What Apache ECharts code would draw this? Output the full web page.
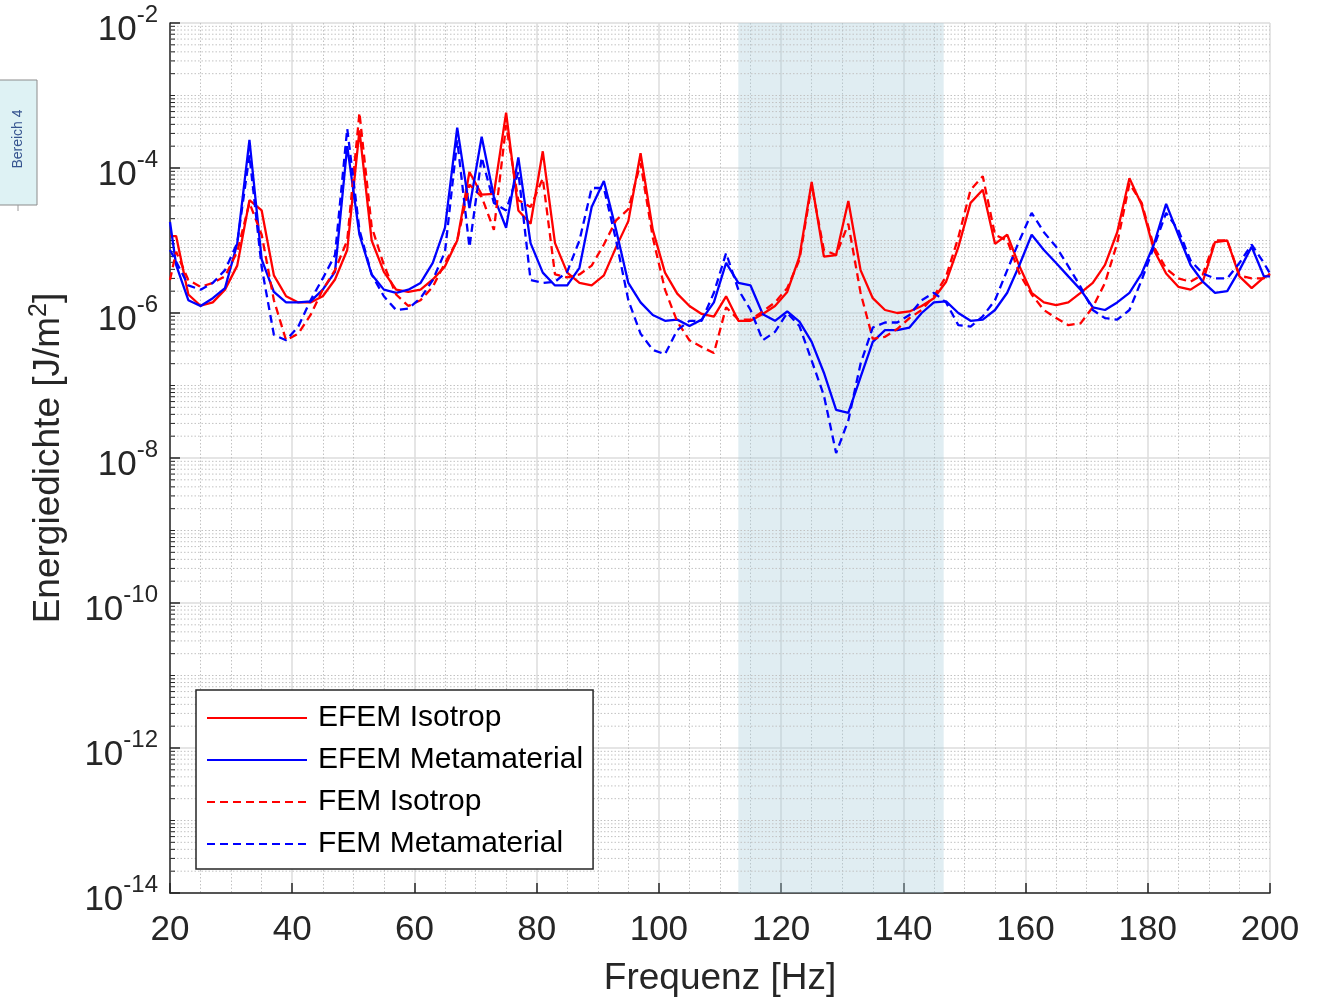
<!DOCTYPE html>
<html>
<head>
<meta charset="utf-8">
<script src="https://cdn.jsdelivr.net/npm/echarts@6/dist/echarts.min.js"></script>
<style>
html, body { margin: 0; padding: 0; background: #fff; }
#chart { width: 1324px; height: 1000px; }
</style>
</head>
<body>
<div id="chart"></div>
<script>
// Frequenzstützstellen [Hz]
const freq = [20, 21, 23, 25, 27, 29, 31, 33, 35, 37,
    39, 41, 43, 45, 47, 49, 51, 53, 55, 57,
    59, 61, 63, 65, 67, 69, 71, 73, 75, 77,
    79, 81, 83, 85, 87, 89, 91, 93, 95, 97,
    99, 101, 103, 105, 107, 109, 111, 113, 115, 117,
    119, 121, 123, 125, 127, 129, 131, 133, 135, 137,
    139, 141, 143, 145, 147, 149, 151, 153, 155, 157,
    159, 161, 163, 165, 167, 169, 171, 173, 175, 177,
    179, 181, 183, 185, 187, 189, 191, 193, 195, 197,
    199, 200];

// Energiedichte [J/m^2]
const efemIsotrop = [1.15e-5, 1.15e-5, 1.8e-6, 1.26e-6, 1.4e-6, 2.1e-6, 4.5e-6, 3.6e-5, 2.6e-5, 3.3e-6,
    1.7e-6, 1.4e-6, 1.4e-6, 1.7e-6, 2.9e-6, 7.4e-6, 3.3e-4, 1.0e-5, 3.7e-6, 2.1e-6,
    1.95e-6, 2.1e-6, 2.9e-6, 4.4e-6, 1.0e-5, 8.8e-5, 4.3e-5, 4.4e-5, 5.8e-4, 2.6e-5,
    1.7e-5, 1.7e-4, 9.2e-6, 3.6e-6, 2.6e-6, 2.4e-6, 3.3e-6, 8.1e-6, 1.85e-5, 1.6e-4,
    1.4e-5, 3.6e-6, 1.85e-6, 1.25e-6, 9.7e-7, 8.9e-7, 1.7e-6, 7.8e-7, 7.8e-7, 9.7e-7,
    1.25e-6, 1.95e-6, 6.0e-6, 6.4e-5, 6.0e-6, 6.3e-6, 3.5e-5, 3.9e-6, 1.6e-6, 1.1e-6,
    1.0e-6, 1.05e-6, 1.25e-6, 1.6e-6, 2.7e-6, 8.1e-6, 3.3e-5, 5.0e-5, 9.0e-6, 1.2e-5,
    4.4e-6, 1.9e-6, 1.4e-6, 1.28e-6, 1.4e-6, 1.9e-6, 2.6e-6, 4.6e-6, 1.3e-5, 7.2e-5,
    3.1e-5, 7.4e-6, 3.5e-6, 2.3e-6, 2.1e-6, 2.7e-6, 9.5e-6, 1.0e-5, 3.2e-6, 2.2e-6,
    3.1e-6, 3.4e-6];

const efemMeta = [1.8e-5, 4.6e-6, 1.5e-6, 1.25e-6, 1.6e-6, 2.2e-6, 9.0e-6, 2.45e-4, 5.5e-6, 1.95e-6,
    1.4e-6, 1.4e-6, 1.45e-6, 2.1e-6, 3.7e-6, 2.0e-4, 1.2e-5, 3.4e-6, 2.1e-6, 1.9e-6,
    2.1e-6, 2.6e-6, 4.9e-6, 1.5e-5, 3.6e-4, 2.8e-5, 2.7e-4, 4.0e-5, 1.5e-5, 1.4e-4,
    9.2e-6, 3.6e-6, 2.4e-6, 2.4e-6, 4.2e-6, 2.9e-5, 6.6e-5, 1.4e-5, 2.6e-6, 1.4e-6,
    9.4e-7, 7.8e-7, 8.1e-7, 6.6e-7, 8.1e-7, 1.4e-6, 4.9e-6, 2.6e-6, 2.4e-6, 9.6e-7,
    7.8e-7, 1.05e-6, 7.6e-7, 4.0e-7, 1.5e-7, 4.6e-8, 4.2e-8, 1.3e-7, 4.0e-7, 5.8e-7,
    5.8e-7, 6.3e-7, 1.0e-6, 1.4e-6, 1.45e-6, 1.0e-6, 7.8e-7, 8.1e-7, 1.1e-6, 1.9e-6,
    4.6e-6, 1.2e-5, 7.4e-6, 4.9e-6, 3.2e-6, 2.1e-6, 1.2e-6, 1.1e-6, 1.4e-6, 1.9e-6,
    3.5e-6, 8.8e-6, 3.2e-5, 1.2e-5, 4.6e-6, 2.7e-6, 1.9e-6, 2.0e-6, 3.9e-6, 8.2e-6,
    3.2e-6, 3.2e-6];

const femIsotrop = [2.85e-6, 7.0e-6, 2.85e-6, 2.3e-6, 2.6e-6, 3.2e-6, 7.0e-6, 3.3e-5, 1.2e-5, 1.5e-6,
    4.2e-7, 5.2e-7, 9.4e-7, 2.1e-6, 3.9e-6, 1.0e-5, 5.8e-4, 1.55e-5, 4.6e-6, 1.8e-6,
    1.25e-6, 1.5e-6, 2.3e-6, 4.9e-6, 1.0e-5, 5.9e-5, 4.0e-5, 1.4e-5, 3.9e-4, 3.6e-5,
    2.9e-5, 7.2e-5, 3.4e-6, 3.1e-6, 3.4e-6, 4.5e-6, 8.8e-6, 1.9e-5, 2.7e-5, 1.17e-4,
    1.1e-5, 2.1e-6, 7.6e-7, 4.2e-7, 3.4e-7, 2.8e-7, 1.2e-6, 8.1e-7, 8.1e-7, 1.05e-6,
    1.4e-6, 2.2e-6, 5.4e-6, 5.8e-5, 7.4e-6, 6.3e-6, 1.7e-5, 1.9e-6, 4.4e-7, 4.7e-7,
    6.0e-7, 8.5e-7, 1.1e-6, 1.7e-6, 3.2e-6, 1.1e-5, 5.0e-5, 7.7e-5, 1.2e-5, 1.0e-5,
    3.5e-6, 1.8e-6, 1.1e-6, 8.5e-7, 6.8e-7, 7.2e-7, 1.2e-6, 2.6e-6, 9.2e-6, 6.1e-5,
    3.3e-5, 8.2e-6, 4.1e-6, 3.0e-6, 2.7e-6, 3.4e-6, 1.0e-5, 1.0e-5, 3.3e-6, 3.0e-6,
    3.0e-6, 3.5e-6];

const femMeta = [7.4e-6, 5.1e-6, 2.4e-6, 2.1e-6, 2.6e-6, 3.9e-6, 9.2e-6, 1.5e-4, 4.3e-6, 5.0e-7,
    4.2e-7, 6.5e-7, 1.5e-6, 3.0e-6, 6.3e-6, 3.5e-4, 1.4e-5, 3.4e-6, 1.7e-6, 1.1e-6,
    1.15e-6, 1.6e-6, 2.85e-6, 7.0e-6, 2.4e-4, 8.1e-6, 1.4e-4, 3.3e-5, 2.6e-5, 8.8e-5,
    2.85e-6, 2.6e-6, 2.7e-6, 3.7e-6, 1.0e-5, 5.3e-5, 5.3e-5, 1.0e-5, 1.5e-6, 5.2e-7,
    3.1e-7, 2.7e-7, 5.8e-7, 7.8e-7, 7.8e-7, 1.9e-6, 6.7e-6, 2.1e-6, 1.1e-6, 4.2e-7,
    5.5e-7, 1.0e-6, 6.6e-7, 2.2e-7, 7.3e-8, 1.17e-8, 3.3e-8, 2.0e-7, 6.3e-7, 7.4e-7,
    7.4e-7, 9.4e-7, 1.5e-6, 1.9e-6, 1.4e-6, 6.8e-7, 6.5e-7, 9.0e-7, 1.5e-6, 3.9e-6,
    1.0e-5, 2.4e-5, 1.3e-5, 8.2e-6, 4.4e-6, 2.3e-6, 1.1e-6, 8.5e-7, 8.1e-7, 1.1e-6,
    2.85e-6, 8.2e-6, 2.4e-5, 1.4e-5, 5.3e-6, 3.5e-6, 3.0e-6, 3.0e-6, 4.9e-6, 8.8e-6,
    4.9e-6, 3.5e-6];

const seriesNames = ["EFEM Isotrop", "EFEM Metamaterial", "FEM Isotrop", "FEM Metamaterial"];
// Bereich 4 (markierter Frequenzbereich)
const bereich = [113, 146.6];

// y-Achse logarithmisch: Exponenten 10^-14 ... 10^-2
const yMinExp = -14;
const yMaxExp = -2;

const toLog = (vals) => freq.map((f, i) => [f, Math.log10(vals[i])]);

// Nebengitter für die log. Achse (2..9 x 10^n und ungerade Dekaden)
const minorLogs = [];
for (let n = yMinExp; n < yMaxExp; n++) {
    for (let k = 1; k <= 9; k++) {
        if (k === 1 && n % 2 === 0) continue;
        minorLogs.push([20, n + Math.log10(k)]);
    }
}

const axisColor = "#262626";
const fontFam = "Arial, 'Liberation Sans', Helvetica, sans-serif";

const chart = echarts.init(document.getElementById("chart"));

const lineSeries = (name, vals, color, dashed) => ({
    name: name,
    type: "line",
    data: toLog(vals),
    symbol: "none",
    showSymbol: false,
    z: 3,
    lineStyle: { color: color, width: 2.3, type: dashed ? [8, 5] : "solid" },
    itemStyle: { color: color }
});

const series = [
    {
        type: "custom",
        name: "minorGrid",
        silent: true,
        z: 1,
        data: minorLogs,
        encode: { x: 0, y: 1 },
        renderItem: (params, api) => {
            const p0 = api.coord([20, api.value(1)]);
            const p1 = api.coord([200, api.value(1)]);
            return {
                type: "group",
                children: [
                    {
                        type: "line",
                        shape: { x1: p0[0], y1: p0[1], x2: p1[0], y2: p1[1] },
                        style: { stroke: "#c2c2c2", lineWidth: 1, lineDash: [1.5, 2] }
                    },
                    {
                        type: "line",
                        shape: { x1: p0[0], y1: p0[1], x2: p0[0] + 5, y2: p0[1] },
                        style: { stroke: axisColor, lineWidth: 1 }
                    }
                ]
            };
        }
    },
    lineSeries(seriesNames[0], efemIsotrop, "#ff0000", false),
    lineSeries(seriesNames[1], efemMeta, "#0000ff", false),
    lineSeries(seriesNames[2], femIsotrop, "#ff0000", true),
    lineSeries(seriesNames[3], femMeta, "#0000ff", true)
];

series[1].markArea = {
    silent: true,
    itemStyle: { color: "rgba(170,206,219,0.36)" },
    data: [[{ xAxis: bereich[0] }, { xAxis: bereich[1] }]]
};

chart.setOption({
    animation: false,
    backgroundColor: "#ffffff",
    textStyle: { fontFamily: fontFam },
    grid: { left: 170, right: 54, top: 23, bottom: 107, containLabel: false, outerBoundsMode: "none" },
    xAxis: {
        type: "value",
        min: 20,
        max: 200,
        interval: 20,
        name: "Frequenz [Hz]",
        nameLocation: "middle",
        nameGap: 67,
        nameTextStyle: { fontSize: 37, color: axisColor, fontFamily: fontFam },
        axisLine: { show: true, lineStyle: { color: axisColor, width: 1.5 } },
        axisTick: { show: true, inside: true, length: 10, lineStyle: { color: axisColor, width: 1.5 } },
        axisLabel: { fontSize: 35, color: axisColor, margin: 20, fontFamily: fontFam },
        splitLine: { show: true, lineStyle: { color: "#dcdcdc", width: 1.5 } },
        minorTick: { show: false, splitNumber: 4 },
        minorSplitLine: { show: true, lineStyle: { color: "#c2c2c2", width: 1, type: [1.5, 2] } }
    },
    yAxis: {
        type: "value",
        min: yMinExp,
        max: yMaxExp,
        interval: 2,
        name: "Energiedichte [J/m{s|2}]",
        nameLocation: "middle",
        nameRotate: 90,
        nameGap: 100,
        nameTextStyle: {
            fontSize: 37,
            color: axisColor,
            fontFamily: fontFam,
            rich: { s: { fontSize: 25, color: axisColor, padding: [0, 0, 18, 0], fontFamily: fontFam } }
        },
        axisLine: { show: true, lineStyle: { color: axisColor, width: 1.5 } },
        axisTick: { show: true, inside: true, length: 10, lineStyle: { color: axisColor, width: 1.5 } },
        axisLabel: {
            margin: 12,
            formatter: (v) => "{b|10}{e|" + v + "}",
            rich: {
                b: { fontSize: 35, color: axisColor, fontFamily: fontFam, padding: [15, 0, 0, 0] },
                e: { fontSize: 24, color: axisColor, fontFamily: fontFam, padding: [0, 0, 15, 0] }
            }
        },
        splitLine: { show: true, lineStyle: { color: "#dcdcdc", width: 1.5 } }
    },
    legend: {
        data: seriesNames,
        orient: "vertical",
        left: 196,
        top: 690,
        padding: [11, 10, 8, 10],
        itemWidth: 100,
        itemHeight: 14,
        itemGap: 8,
        itemStyle: { opacity: 0 },
        backgroundColor: "#ffffff",
        borderColor: axisColor,
        borderWidth: 1.5,
        borderRadius: 0,
        selectedMode: false,
        textStyle: { fontSize: 30, color: "#000000", lineHeight: 34, fontFamily: fontFam, padding: [0, 0, 0, 6] }
    },
    graphic: [
        {
            type: "rect",
            silent: true,
            shape: { x: -1, y: 80, width: 38, height: 125 },
            style: { fill: "#def2f4", stroke: "#8c8c8c", lineWidth: 1 }
        },
        {
            type: "text",
            silent: true,
            x: 18,
            y: 139,
            rotation: Math.PI / 2,
            style: {
                text: "Bereich 4",
                fill: "#36548f",
                font: "14px Arial, 'Liberation Sans', sans-serif",
                align: "center",
                verticalAlign: "middle"
            }
        },
        {
            type: "line",
            silent: true,
            shape: { x1: 18, y1: 205, x2: 18, y2: 211 },
            style: { stroke: "#9a9a9a", lineWidth: 1 }
        }
    ],
    series: series
});
</script>
</body>
</html>
